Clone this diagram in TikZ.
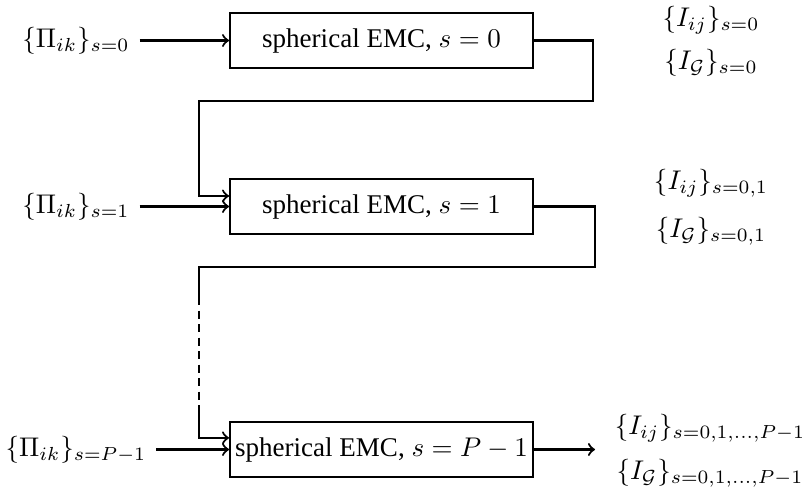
\documentclass[tikz,border=0pt]{standalone}
\usepackage{amsmath}
\usepackage[no-math]{fontspec}
\setmainfont{Liberation Serif}

\begin{document}
\begin{tikzpicture}[x=0.37pt, y=-0.37pt, >=to, thick,
    emcbox/.style={draw, thick, minimum width=112pt, minimum height=20.4pt, inner sep=0pt}]
    \useasboundingbox (0,0) rectangle (804,491);

    % 三个 EMC 模块
    \node[emcbox] (emc0) at (381.5,40.5) {spherical EMC, $s=0$};
    \node[emcbox] (emc1) at (381.5,206.5) {spherical EMC, $s=1$};
    \node[emcbox] (emcP) at (381.5,449.5) {spherical EMC, $s=P-1$};

    % 输入 Pi
    \node (pi0) at (76,40.5) {$\{\Pi_{ik}\}_{s=0}$};
    \node (pi1) at (76,206.5) {$\{\Pi_{ik}\}_{s=1}$};
    \node (piP) at (76,449.5) {$\{\Pi_{ik}\}_{s=P-1}$};
    \draw[->] (pi0.east) -- (emc0.west);
    \draw[->] (pi1.east) -- (emc1.west);
    \draw[->] (piP.east) -- (emcP.west);

    % 从 s=0 到 s=1 的回路
    \coordinate (r0) at (593,101);
    \coordinate (l0) at (199,101);
    \draw[->] (emc0.east) -| (r0) -- (l0) |- ([yshift=3.9pt]emc1.west);

    % 从 s=1 到 s=P-1 的回路 (中间省略)
    \coordinate (r1) at (595,267);
    \coordinate (l1) at (199,267);
    \coordinate (d0) at (199,297);
    \coordinate (d1) at (199,413);
    \draw (emc1.east) -| (r1) -- (l1) -- (d0);
    \draw[dash pattern=on 3pt off 2pt] (d0) -- (d1);
    \draw[->] (d1) |- ([yshift=4.3pt]emcP.west);

    % 输出
    \coordinate (outP) at (595,449.5);
    \draw[->] (emcP.east) -- (outP);

    % 输出的 I
    \node (ij0) at (711,20) {$\{I_{ij}\}_{s=0}$};
    \node (g0) at (711,63) {$\{I_{\mathcal{G}}\}_{s=0}$};
    \node (ij1) at (711,183) {$\{I_{ij}\}_{s=0,1}$};
    \node (g1) at (711,231) {$\{I_{\mathcal{G}}\}_{s=0,1}$};
    \node (ijP) at (710,428) {$\{I_{ij}\}_{s=0,1,\ldots,P-1}$};
    \node (gP) at (710,473) {$\{I_{\mathcal{G}}\}_{s=0,1,\ldots,P-1}$};
\end{tikzpicture}
\end{document}
